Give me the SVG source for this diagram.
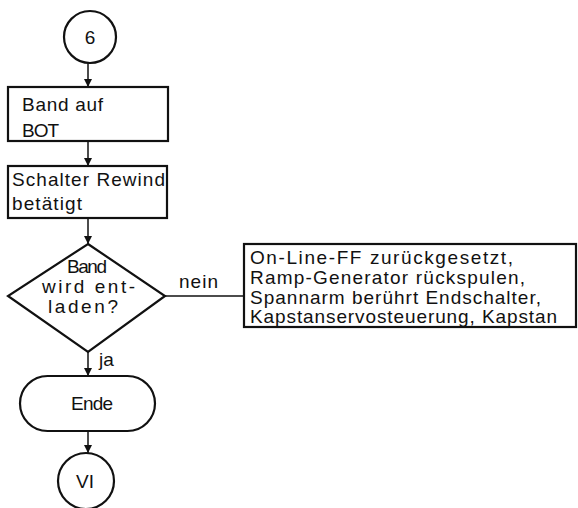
<svg xmlns="http://www.w3.org/2000/svg" width="578" height="508" viewBox="0 0 578 508">
  <style>
    .shape { fill: #fff; stroke: #111; stroke-width: 2.2; }
    .edge { fill: none; stroke: #111; stroke-width: 1.5; }
    .lbl { font-family: "Liberation Sans", Arial, sans-serif; font-size: 19px; fill: #111; }
    .mid { text-anchor: middle; }
  </style>
  <defs>
    <marker id="arrow" viewBox="0 0 8 10" refX="8" refY="5" markerWidth="8" markerHeight="10" markerUnits="userSpaceOnUse" orient="auto">
      <path d="M0,1 L8,5 L0,9 Z" fill="#111"/>
    </marker>
  </defs>
  <rect width="578" height="508" fill="#fff"/>

  <g id="connectors">
    <line class="edge" x1="88" y1="63" x2="88" y2="87" marker-end="url(#arrow)"/>
    <line class="edge" x1="88" y1="141" x2="88" y2="166" marker-end="url(#arrow)"/>
    <line class="edge" x1="88" y1="218" x2="88" y2="244" marker-end="url(#arrow)"/>
    <line class="edge" x1="88" y1="352" x2="88" y2="376" marker-end="url(#arrow)"/>
    <line class="edge" x1="88" y1="431" x2="88" y2="453" marker-end="url(#arrow)"/>
    <line class="edge" x1="165" y1="296" x2="244" y2="296"/>
    <text class="lbl" x="179" y="288" textLength="39" lengthAdjust="spacing">nein</text>
    <text class="lbl" x="99" y="366">ja</text>
  </g>

  <g id="conn-6">
    <circle class="shape" cx="90" cy="37" r="26"/>
    <text class="lbl mid" x="90" y="44">6</text>
  </g>

  <g id="band-bot">
    <rect class="shape" x="8" y="87" width="160" height="54"/>
    <text class="lbl" x="22" y="111" textLength="81" lengthAdjust="spacing">Band auf</text>
    <text class="lbl" x="22" y="137" textLength="37" lengthAdjust="spacing">BOT</text>
  </g>

  <g id="schalter-rewind">
    <rect class="shape" x="8" y="166" width="159" height="52"/>
    <text class="lbl" x="12" y="186" textLength="153" lengthAdjust="spacing">Schalter Rewind</text>
    <text class="lbl" x="12" y="210" textLength="70" lengthAdjust="spacing">betätigt</text>
  </g>

  <g id="decision">
    <polygon class="shape" points="88,244 165,296 88,352 8,296"/>
    <text class="lbl" x="67" y="273" textLength="40" lengthAdjust="spacing">Band</text>
    <text class="lbl" x="42" y="293" textLength="93" lengthAdjust="spacing">wird ent-</text>
    <text class="lbl" x="48" y="313" textLength="70" lengthAdjust="spacing">laden?</text>
  </g>

  <g id="actions">
    <rect class="shape" x="244" y="244" width="332" height="83"/>
    <text class="lbl" x="250" y="264" textLength="263" lengthAdjust="spacing">On-Line-FF zurückgesetzt,</text>
    <text class="lbl" x="250" y="284" textLength="275" lengthAdjust="spacing">Ramp-Generator rückspulen,</text>
    <text class="lbl" x="250" y="304" textLength="291" lengthAdjust="spacing">Spannarm berührt Endschalter,</text>
    <text class="lbl" x="250" y="323" textLength="307" lengthAdjust="spacing">Kapstanservosteuerung, Kapstan</text>
  </g>

  <g id="ende">
    <rect class="shape" x="20" y="376" width="135" height="55" rx="27.5" ry="27.5"/>
    <text class="lbl" x="71" y="410" textLength="42" lengthAdjust="spacing">Ende</text>
  </g>

  <g id="conn-VI">
    <circle class="shape" cx="86" cy="481" r="28"/>
    <text class="lbl mid" x="85" y="488">VI</text>
  </g>
</svg>
